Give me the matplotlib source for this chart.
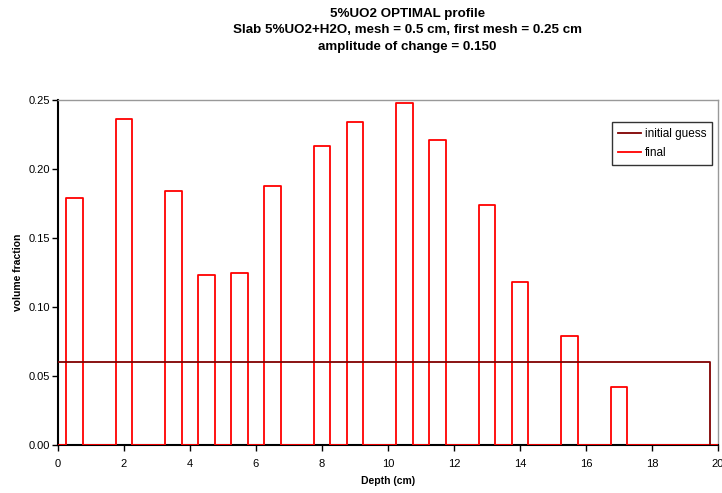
import numpy as np
import matplotlib
matplotlib.use('Agg')
import matplotlib.pyplot as plt

plt.rcParams['font.family'] = ['Liberation Sans', 'DejaVu Sans']

# Cellules du profil final (bords gauche/droit en cm et fraction volumique)
cell_left = [0.25, 1.75, 3.25, 4.25, 5.25, 6.25, 7.75, 8.75, 10.25, 11.25, 12.75, 13.75, 15.25, 16.75]
cell_right = [0.75, 2.25, 3.75, 4.75, 5.75, 6.75, 8.25, 9.25, 10.75, 11.75, 13.25, 14.25, 15.75, 17.25]
final_values = [0.179, 0.236, 0.184, 0.123, 0.125, 0.188, 0.217, 0.234, 0.248, 0.221, 0.174, 0.118, 0.079, 0.042]

# Profil initial
initial_depth = [0.0, 19.75, 19.75]
initial_values = [0.06, 0.06, 0.0]

x_ticks = [0, 2, 4, 6, 8, 10, 12, 14, 16, 18, 20]
y_ticks = [0.0, 0.05, 0.10, 0.15, 0.20, 0.25]

# Construire la ligne en escalier du profil final
xs, ys = [0.0], [0.0]
for l, r, v in zip(cell_left, cell_right, final_values):
    xs += [l, l, r, r]
    ys += [0.0, v, v, 0.0]
xs.append(20.0)
ys.append(0.0)

fig = plt.figure(figsize=(7.22, 4.93), dpi=100)
ax = fig.add_axes([0.0803, 0.0974, 0.9142, 0.6996])

ax.plot(xs, ys, color='#ff0000', lw=1.3, label='final', zorder=3)
ax.plot(initial_depth, initial_values, color='#800000', lw=1.3, label='initial guess', zorder=4)

ax.set_xlim(0, 20)
ax.set_ylim(0, 0.25)
ax.set_xticks(x_ticks)
ax.set_yticks(y_ticks)
ax.set_yticklabels(['%.2f' % v for v in y_ticks])
ax.tick_params(direction='out', length=4, width=1, labelsize=8)
ax.tick_params(axis='x', pad=6)
ax.tick_params(axis='y', pad=2)

for s in ['top', 'right']:
    ax.spines[s].set_color('#999999')
    ax.spines[s].set_linewidth(1)
for s in ['left', 'bottom']:
    ax.spines[s].set_color('black')
    ax.spines[s].set_linewidth(1.5)

ax.set_xlabel('Depth (cm)', fontsize=7.5, fontweight='bold', labelpad=5)
ax.set_ylabel('volume fraction', fontsize=7.5, fontweight='bold', labelpad=4)

handles, labels = ax.get_legend_handles_labels()
leg = ax.legend(handles[::-1], labels[::-1], loc='upper right', bbox_to_anchor=(0.991, 0.936),
                borderaxespad=0, fontsize=8.5, frameon=True, fancybox=False, handlelength=2.0,
                borderpad=0.5, labelspacing=0.6, handletextpad=0.3)
leg.get_frame().set_edgecolor('black')
leg.get_frame().set_linewidth(1)

fig.text(0.564, 0.984, '5%UO2 OPTIMAL profile', ha='center', va='top', fontsize=9.6, fontweight='bold')
fig.text(0.564, 0.951, 'Slab 5%UO2+H2O, mesh = 0.5 cm, first mesh = 0.25 cm', ha='center', va='top',
         fontsize=9.6, fontweight='bold')
fig.text(0.564, 0.917, 'amplitude of change = 0.150', ha='center', va='top', fontsize=9.6, fontweight='bold')

fig.savefig('out.png', dpi=100)
